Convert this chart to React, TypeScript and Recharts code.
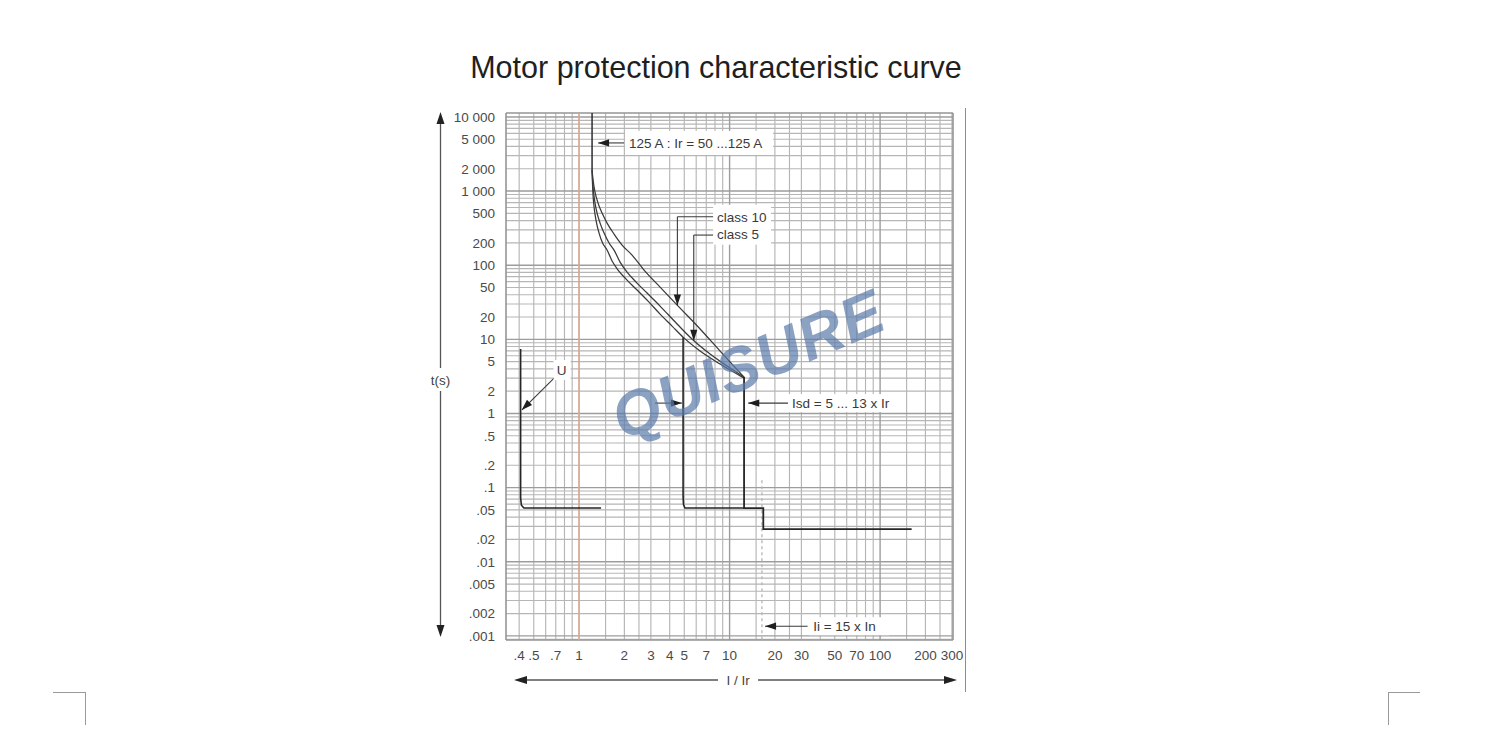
import React from 'react';
import { LineChart, Line, XAxis, YAxis, ReferenceLine, ReferenceDot } from 'recharts';

// ---------- axes ----------
const xDomain: [number, number] = [0.327, 305];
const yDomain: [number, number] = [0.00088, 11300];
const xTicks = [0.4, 0.5, 0.7, 1, 2, 3, 4, 5, 7, 10, 20, 30, 50, 70, 100, 200, 300];
const xTickLabels = ['.4', '.5', '.7', '1', '2', '3', '4', '5', '7', '10', '20', '30', '50', '70', '100', '200', '300'];
const yTicks = [10000, 5000, 2000, 1000, 500, 200, 100, 50, 20, 10, 5, 2, 1, 0.5, 0.2, 0.1, 0.05, 0.02, 0.01, 0.005, 0.002, 0.001];
const yTickLabels = ['10 000', '5 000', '2 000', '1 000', '500', '200', '100', '50', '20', '10', '5', '2', '1', '.5', '.2', '.1', '.05', '.02', '.01', '.005', '.002', '.001'];

// log-paper grid
const gridDecadesX = [0.1, 1, 10, 100];
const gridStepsX = [1, 1.5, 2, 2.5, 3, 4, 5, 6, 7, 8, 9];
const gridDecadesY = [0.0001, 0.001, 0.01, 0.1, 1, 10, 100, 1000, 10000];
const gridStepsY = [1, 2, 3, 4, 5, 6, 7, 8, 9];

// ---------- series (I/Ir , t in s) ----------
const thermalStart: [number, number][] = [[1.22, 11300], [1.22, 1920]];
const class10Curve: [number, number][] = [
  [1.22, 1920], [1.239, 1408], [1.277, 970], [1.337, 689], [1.422, 505], [1.535, 370], [1.708, 263],
  [1.931, 187], [2.25, 137], [2.703, 86], [3.453, 50.7], [4.69, 26.4], [6.368, 13.8], [8.648, 6.95], [12.48, 3.1],
];
const class5UpperCurve: [number, number][] = [
  [1.22, 1920], [1.229, 1408], [1.248, 970], [1.277, 689], [1.317, 505], [1.379, 370], [1.466, 271],
  [1.583, 199], [1.708, 160], [1.873, 110], [2.084, 80.8], [2.391, 59.2], [2.829, 42.1], [3.453, 28.1],
  [4.479, 16.1], [5.722, 9.78], [7.42, 6.33], [9.625, 4.36], [12.48, 3.1],
];
const class5LowerCurve: [number, number][] = [
  [1.22, 1920], [1.2256, 1408], [1.235, 970], [1.25, 689], [1.273, 505], [1.307, 370], [1.358, 271],
  [1.433, 199], [1.535, 160], [1.657, 113.7], [1.816, 86], [2.053, 65], [2.391, 47.7], [2.873, 32.8],
  [3.453, 21.9], [4.148, 15.1], [4.91, 10.7], [6.368, 6.95], [8.648, 4.64], [12.48, 3.0],
];
const isdMinPath: [number, number][] = [[4.91, 10.7], [4.91, 0.075], [4.94, 0.059], [5.05, 0.053], [12.48, 0.053]];
const isdMaxPath: [number, number][] = [[12.48, 3.1], [12.48, 0.053], [16.75, 0.053], [16.75, 0.0275], [162, 0.0275]];
const uCurve: [number, number][] = [[0.409, 7.4], [0.409, 0.072], [0.414, 0.058], [0.43, 0.053], [1.4, 0.053]];
const iiMarker: [number, number][] = [[16.4, 0.126], [16.4, 0.00088]];

// ---------- annotations ----------
const leaderLines: [number, number][][] = [
  [[1.34, 4460], [1.99, 4460]],
  [[4.5, 450], [7.95, 450]],
  [[4.5, 450], [4.5, 28.5]],
  [[5.78, 255], [7.95, 255]],
  [[5.78, 255], [5.78, 9.6]],
  [[3.2, 1.38], [4.82, 1.38]],
  [[13.3, 1.38], [25, 1.38]],
  [[17.2, 0.00135], [33, 0.00135]],
  [[0.693, 3.1], [0.418, 1.12]],
];
const arrowTips: [number, number, number][] = [
  [1.337, 4460, 180],
  [4.5, 28.5, 90],
  [5.78, 9.6, 90],
  [4.82, 1.38, 0],
  [13.3, 1.38, 180],
  [17.2, 0.00135, 180],
  [0.416, 1.11, 135],
];
const labelTexts = ['125 A : Ir = 50 ...125 A', 'class 10', 'class 5', 'Isd = 5 ... 13 x Ir', 'Ii = 15 x In', 'U'];
const labelAnchors: [number, number][] = [[2.15, 4460], [8.26, 450], [8.26, 258], [26, 1.38], [35.9, 0.00135], [0.765, 3.85]];
const labelBoxes: [number, number, number, number][] = [
  [-4, -12, 148, 24],
  [-4, -12, 58, 22],
  [-4, -10, 58, 20],
  [-4, -9, 106, 18],
  [-4, -9, 80, 18],
  [-8, -10, 17, 20],
];

const FONT = '"Liberation Sans", Arial, Helvetica, sans-serif';

const pts = (arr: [number, number][]) => arr.map(([x, t]) => ({ x, t }));

const gridValues = (decades: number[], steps: number[], dom: [number, number]) => {
  const major: number[] = [];
  const minor: number[] = [];
  decades.forEach((d) =>
    steps.forEach((s) => {
      const v = +(d * s).toPrecision(6);
      if (v > dom[0] && v < dom[1]) (s === 1 ? major : minor).push(v);
    })
  );
  return { major, minor };
};
const gx = gridValues(gridDecadesX, gridStepsX, xDomain);
const gy = gridValues(gridDecadesY, gridStepsY, yDomain);

const arrowHead = (angle: number) => (props: any) => {
  const { cx, cy } = props;
  if (cx == null || cy == null) return <g />;
  return (
    <polygon
      points="0,0 -11,-3.6 -11,3.6"
      transform={`translate(${cx},${cy}) rotate(${angle})`}
      fill="#1e1e1e"
    />
  );
};

const labelShape = (i: number) => (props: any) => {
  const { cx, cy } = props;
  if (cx == null || cy == null) return <g />;
  const [bx, by, bw, bh] = labelBoxes[i];
  const isU = labelTexts[i] === 'U';
  return (
    <g>
      <rect x={cx + bx} y={cy + by} width={bw} height={bh} fill="#ffffff" />
      <text
        x={cx}
        y={cy}
        dy="0.35em"
        textAnchor={isU ? 'middle' : 'start'}
        fontSize={13.5}
        fontFamily={FONT}
        fill="#3a3a3a"
      >
        {labelTexts[i]}
      </text>
    </g>
  );
};

const YDecor = (props: any) => {
  const vb = props.viewBox || { x: 446, y: 113, width: 60, height: 527 };
  const ax = vb.x - 5.5;
  const top = vb.y - 1;
  const bottom = vb.y + vb.height - 3;
  const mid = 380;
  return (
    <g>
      <line x1={ax} y1={top + 10} x2={ax} y2={mid - 12} stroke="#555" strokeWidth={1.3} />
      <line x1={ax} y1={mid + 11} x2={ax} y2={bottom - 10} stroke="#555" strokeWidth={1.3} />
      <polygon points={`${ax},${top} ${ax - 4},${top + 12} ${ax + 4},${top + 12}`} fill="#222" />
      <polygon points={`${ax},${bottom} ${ax - 4},${bottom - 12} ${ax + 4},${bottom - 12}`} fill="#222" />
      <text x={ax} y={mid} dy="0.35em" textAnchor="middle" fontSize={13.5} fontFamily={FONT} fill="#444">
        t(s)
      </text>
    </g>
  );
};

const XDecor = (props: any) => {
  const vb = props.viewBox || { x: 506, y: 640, width: 447, height: 30 };
  const ay = vb.y + 40;
  const left = vb.x + 8;
  const right = vb.x + vb.width + 4;
  const mid = 738;
  return (
    <g>
      <line x1={left + 10} y1={ay} x2={mid - 20} y2={ay} stroke="#555" strokeWidth={1.3} />
      <line x1={mid + 20} y1={ay} x2={right - 10} y2={ay} stroke="#555" strokeWidth={1.3} />
      <polygon points={`${left},${ay} ${left + 13},${ay - 4} ${left + 13},${ay + 4}`} fill="#222" />
      <polygon points={`${right},${ay} ${right - 13},${ay - 4} ${right - 13},${ay + 4}`} fill="#222" />
      <text x={mid} y={ay} dy="0.35em" textAnchor="middle" fontSize={13.5} fontFamily={FONT} fill="#444">
        I / Ir
      </text>
    </g>
  );
};

const lineProps = {
  dot: false,
  activeDot: false,
  isAnimationActive: false,
  dataKey: 't',
  legendType: 'none' as const,
};

export default function App() {
  return (
    <div
      style={{
        position: 'absolute',
        left: 0,
        top: 0,
        width: 1500,
        height: 729,
        background: '#ffffff',
        fontFamily: FONT,
        overflow: 'hidden',
      }}
    >
      <div
        style={{
          position: 'absolute',
          left: 0,
          top: 52,
          width: 1432,
          textAlign: 'center',
          fontSize: 30.5,
          lineHeight: '30.5px',
          color: '#1f1f1f',
          whiteSpace: 'nowrap',
        }}
      >
        Motor protection characteristic curve
      </div>

      <div style={{ position: 'absolute', left: 0, top: 0 }}>
        <LineChart width={1500} height={729} margin={{ top: 113, right: 547, bottom: 59, left: 446 }}>
          <XAxis
            dataKey="x"
            type="number"
            scale="log"
            domain={xDomain}
            allowDataOverflow
            ticks={xTicks}
            interval={0}
            tickFormatter={(v: number) => xTickLabels[xTicks.indexOf(v)] ?? ''}
            tick={{ fill: '#4a4a4a', fontSize: 13.5, fontFamily: FONT }}
            tickLine={false}
            axisLine={false}
            tickMargin={4}
            height={30}
            label={XDecor}
          />
          <YAxis
            dataKey="t"
            type="number"
            scale="log"
            domain={yDomain}
            allowDataOverflow
            ticks={yTicks}
            interval={0}
            tickFormatter={(v: number) => yTickLabels[yTicks.indexOf(v)] ?? ''}
            tick={{ fill: '#4a4a4a', fontSize: 13.5, fontFamily: FONT }}
            tickLine={false}
            axisLine={false}
            tickMargin={5}
            width={60}
            label={YDecor}
          />

          {gx.minor.map((v) => (
            <ReferenceLine key={'gxm' + v} x={v} stroke="#b6b6b6" strokeWidth={1.15} zIndex={-60} />
          ))}
          {gy.minor.map((v) => (
            <ReferenceLine key={'gym' + v} y={v} stroke="#b6b6b6" strokeWidth={1.15} zIndex={-60} />
          ))}
          {gx.major.map((v) => (
            <ReferenceLine key={'gxM' + v} x={v} stroke="#9d9d9d" strokeWidth={1.4} zIndex={-55} />
          ))}
          {gy.major.map((v) => (
            <ReferenceLine key={'gyM' + v} y={v} stroke="#9d9d9d" strokeWidth={1.4} zIndex={-55} />
          ))}
          <ReferenceLine x={xDomain[0]} stroke="#959595" strokeWidth={1.6} zIndex={-50} />
          <ReferenceLine x={xDomain[1]} stroke="#959595" strokeWidth={1.6} zIndex={-50} />
          <ReferenceLine y={yDomain[0]} stroke="#959595" strokeWidth={1.6} zIndex={-50} />
          <ReferenceLine y={yDomain[1]} stroke="#959595" strokeWidth={1.6} zIndex={-50} />
          <ReferenceLine x={1} stroke="#f3ad86" strokeWidth={1.2} zIndex={-45} />
          <ReferenceLine
            segment={iiMarker.map(([x, y]) => ({ x, y }))}
            stroke="#b5b5b5"
            strokeWidth={1.3}
            strokeDasharray="3 3"
            zIndex={-45}
          />

          <Line {...lineProps} data={pts(thermalStart)} type="linear" stroke="#2e2e2e" strokeWidth={1.5} />
          <Line {...lineProps} data={pts(class10Curve)} type="monotone" stroke="#3a3a3a" strokeWidth={1.25} />
          <Line {...lineProps} data={pts(class5UpperCurve)} type="monotone" stroke="#3a3a3a" strokeWidth={1.25} />
          <Line {...lineProps} data={pts(class5LowerCurve)} type="monotone" stroke="#3a3a3a" strokeWidth={1.25} />
          <Line {...lineProps} data={pts(isdMinPath)} type="linear" stroke="#262626" strokeWidth={1.6} />
          <Line {...lineProps} data={pts(isdMaxPath)} type="linear" stroke="#262626" strokeWidth={1.8} />
          <Line {...lineProps} data={pts(uCurve)} type="linear" stroke="#262626" strokeWidth={1.6} />

          {leaderLines.map((seg, i) => (
            <ReferenceLine
              key={'ld' + i}
              segment={seg.map(([x, y]) => ({ x, y }))}
              stroke="#3a3a3a"
              strokeWidth={1.1}
              ifOverflow="visible"
              zIndex={650}
            />
          ))}
          {labelAnchors.map(([x, y], i) => (
            <ReferenceDot
              key={'lb' + i}
              x={x}
              y={y}
              r={1}
              ifOverflow="visible"
              shape={labelShape(i)}
              zIndex={660}
            />
          ))}
          {arrowTips.map(([x, y, a], i) => (
            <ReferenceDot
              key={'ah' + i}
              x={x}
              y={y}
              r={1}
              ifOverflow="visible"
              shape={arrowHead(a)}
              zIndex={670}
            />
          ))}
        </LineChart>
      </div>

      <div
        style={{
          position: 'absolute',
          left: 748,
          top: 365,
          transform: 'translate(-50%, -50%) rotate(-23deg)',
          fontSize: 62,
          fontWeight: 700,
          fontStyle: 'italic',
          color: '#5b7bab',
          opacity: 0.7,
          whiteSpace: 'nowrap',
          lineHeight: '62px',
          letterSpacing: 1,
          pointerEvents: 'none',
        }}
      >
        QUISURE
      </div>

      <div style={{ position: 'absolute', left: 965, top: 108, width: 1, height: 584, background: '#8c8c8c' }} />
      <div style={{ position: 'absolute', left: 53, top: 692, width: 32, height: 1, background: '#9a9a9a' }} />
      <div style={{ position: 'absolute', left: 85, top: 692, width: 1, height: 33, background: '#9a9a9a' }} />
      <div style={{ position: 'absolute', left: 1388, top: 692, width: 32, height: 1, background: '#9a9a9a' }} />
      <div style={{ position: 'absolute', left: 1388, top: 692, width: 1, height: 33, background: '#9a9a9a' }} />
    </div>
  );
}
